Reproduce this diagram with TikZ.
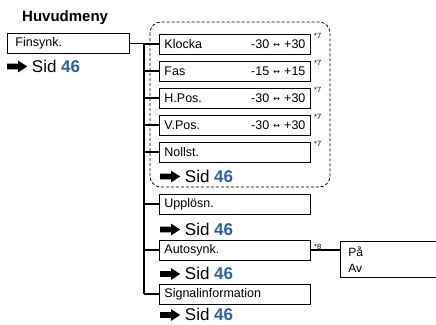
\documentclass[tikz,border=0pt]{standalone}
\usepackage{fontspec}
\setmainfont{Liberation Sans}
\newfontfamily\symfont{DejaVu Sans}
\definecolor{refblue}{RGB}{45,95,170}
\newcommand{\goarrow}{\tikz[baseline=-5.5pt,x=1pt,y=1pt]\fill (0,-2.8)--(11,-2.8)--(11,-5.8)--(20,0)--(11,5.8)--(11,2.8)--(0,2.8)--cycle;}
\newcommand{\lr}{{\fontsize{8}{9}\selectfont\symfont\raisebox{0.5pt}{↔}}}
\begin{document}
\begin{tikzpicture}[x=1pt,y=-1pt,
  menubox/.style={draw, line width=0.9pt, minimum height=20pt, inner xsep=5pt, inner ysep=0pt, text width=#1, anchor=west, font=\fontsize{12.5}{13}\selectfont},
  menubox/.default=141pt,
  sidref/.style={anchor=base west, inner sep=0pt, font=\fontsize{17}{18}\selectfont},
  note/.style={anchor=north west, inner sep=0pt, font=\fontsize{7.5}{8}\selectfont},
  conn/.style={line width=1.1pt}]
\useasboundingbox (0,0) rectangle (436,324);
\clip (0,0) rectangle (436,324);

\node[anchor=base west, inner sep=0pt, font=\fontsize{15}{16}\selectfont\bfseries] (title) at (22,21) {Huvudmeny};

\node[menubox=106pt, inner xsep=8pt] (fin) at (7,43.5) {Finsynk.};
\node[sidref] (fsid) at (7,72) {\goarrow\ Sid \textcolor{refblue}{\textbf{46}}};

\draw[dashed, dash pattern=on 3pt off 2pt, line width=0.8pt, rounded corners=11pt] (150,22) rectangle (330,187);

\node[menubox] (klo) at (159,44) {Klocka\hfill -30 \lr\ +30};
\node[menubox] (fas) at (159,71) {Fas\hfill -15 \lr\ +15};
\node[menubox] (hpos) at (159,98) {H.Pos.\hfill -30 \lr\ +30};
\node[menubox] (vpos) at (159,125) {V.Pos.\hfill -30 \lr\ +30};
\node[menubox] (noll) at (159,152) {Nollst.};
\node[sidref] (nsid) at (160,182) {\goarrow\ Sid \textcolor{refblue}{\textbf{46}}};

\foreach \b in {klo,fas,hpos,vpos,noll}
  \node[note] at ([xshift=3pt]\b.north east) {*7};

\node[menubox] (upp) at (159,204) {Upplösn.};
\node[sidref] (usid) at (160,235) {\goarrow\ Sid \textcolor{refblue}{\textbf{46}}};
\node[menubox] (auto) at (159,250) {Autosynk.};
\node[sidref] (asid) at (160,279.5) {\goarrow\ Sid \textcolor{refblue}{\textbf{46}}};
\node[menubox] (sig) at (159,294) {Signalinformation};
\node[sidref] (ssid) at (160,320.5) {\goarrow\ Sid \textcolor{refblue}{\textbf{46}}};

\node[note] (n8) at ([xshift=3pt,yshift=-5pt]auto.north east) {*8};

\node[draw, line width=0.9pt, anchor=north west, minimum height=36pt, text width=100pt, inner xsep=8pt, inner ysep=3pt, align=left, font=\fontsize{12}{16}\selectfont] (pa) at (340,241) {På\\Av};

\coordinate (trunktop) at (144,43.5);
\coordinate (trunkbot) at (144,294);
\draw[conn] (fin.east) -- (trunktop) -- (trunkbot);
\foreach \b in {klo,fas,hpos,vpos,noll,upp,auto,sig}
  \draw[conn] (\b.west -| trunktop) -- (\b.west);
\draw[conn] (auto.east) -- (auto.east -| pa.west);
\end{tikzpicture}
\end{document}
